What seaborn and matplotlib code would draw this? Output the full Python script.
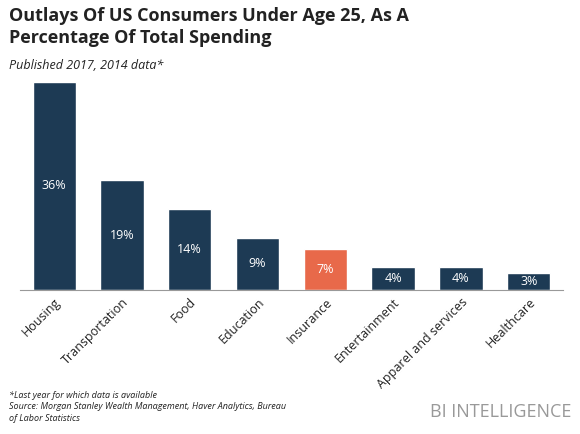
import matplotlib
matplotlib.use("Agg")
import matplotlib.pyplot as plt
import seaborn as sns
import pandas as pd

categories = ["Housing", "Transportation", "Food", "Education", "Insurance",
              "Entertainment", "Apparel and services", "Healthcare"]
values = [36, 19, 14, 9, 7, 4, 4, 3]
labels = ["36%", "19%", "14%", "9%", "7%", "4%", "4%", "3%"]

sns.set_style("white")
plt.rcParams['font.family'] = ['Open Sans', 'DejaVu Sans']
fig = plt.figure(figsize=(5.8, 4.34), dpi=100)
ax = fig.add_axes([0.035, 0.332, 0.935, 0.479])
df = pd.DataFrame({"cat": categories, "val": values})
palette = ["#1d3a54"] * 8
palette[4] = "#e8694a"
sns.barplot(data=df, x="cat", y="val", hue="cat", palette=palette, width=0.64,
            legend=False, ax=ax, saturation=1)
ax.set_ylim(0, 36)
ax.set_xlim(-0.5, 7.5)
for i, (v, l) in enumerate(zip(values, labels)):
    ax.text(i, v / 2, l, ha="center", va="center", color="white", fontsize=9)
ax.set_xlabel(""); ax.set_ylabel("")
ax.set_yticks([])
ax.tick_params(axis="x", length=0, pad=4)
ax.set_xticks(range(8))
ax.set_xticklabels(categories, rotation=45, ha="right", rotation_mode="anchor",
                   fontsize=9, color="#222222")
for s in ["top", "left", "right"]:
    ax.spines[s].set_visible(False)
ax.spines["bottom"].set_color("#999999")

fig.text(0.015, 0.985, "Outlays Of US Consumers Under Age 25, As A\nPercentage Of Total Spending",
         fontsize=13, fontweight="bold", va="top", color="#222222", linespacing=1.3)
fig.text(0.015, 0.865, "Published 2017, 2014 data*", fontsize=9, style="italic",
         va="top", color="#222222")
fig.text(0.015, 0.1, "*Last year for which data is available\nSource: Morgan Stanley Wealth Management, Haver Analytics, Bureau\nof Labor Statistics",
         fontsize=6.5, style="italic", va="top", color="#222222", linespacing=1.4)
fig.text(0.985, 0.05, "BI INTELLIGENCE", fontsize=13, ha="right", va="center",
         color="#999999")
fig.savefig("out.png", dpi=100)
